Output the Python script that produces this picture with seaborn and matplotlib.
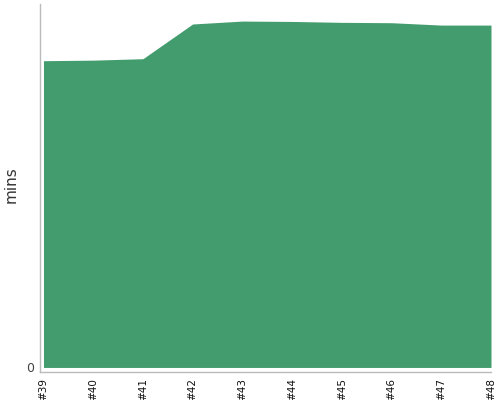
import numpy as np
import pandas as pd
import seaborn as sns
import matplotlib
matplotlib.use("Agg")
import matplotlib.pyplot as plt

builds = ["#39", "#40", "#41", "#42", "#43", "#44", "#45", "#46", "#47", "#48"]
mins = [16.88, 16.91, 16.99, 18.90, 19.06, 19.04, 18.99, 18.97, 18.84, 18.84]

df = pd.DataFrame({"build": builds, "mins": mins})
df["pos"] = np.arange(len(df))

sns.set_style("white")
fig = plt.figure(figsize=(5, 4), dpi=100)
ax = fig.add_axes([0.08, 0.07, 0.902, 0.92])

green = "#439c6d"
sns.lineplot(data=df, x="pos", y="mins", ax=ax, color=green, linewidth=0)
ax.fill_between(df["pos"], 0, df["mins"], color=green, linewidth=0)

ax.set_xlim(-0.07, len(df) - 1)
ax.set_ylim(-0.25, 20)
ax.set_xticks(df["pos"])
ax.set_xticklabels(df["build"], rotation=90, fontsize=7.5, color="#111111")
ax.set_yticks([0])
ax.set_yticklabels(["0"], fontsize=9, color="#444444")
ax.set_xlabel("")
ax.set_ylabel("mins", fontsize=11, color="#333333")
ax.yaxis.set_label_coords(-0.047, 0.51)

for side in ["top", "right"]:
    ax.spines[side].set_visible(False)
for side in ["left", "bottom"]:
    ax.spines[side].set_color("#bbbbbb")
    ax.spines[side].set_linewidth(1)
ax.tick_params(axis="both", which="both", length=3, width=1, color="#bbbbbb", pad=1.5)

fig.savefig("out.png", dpi=100)
